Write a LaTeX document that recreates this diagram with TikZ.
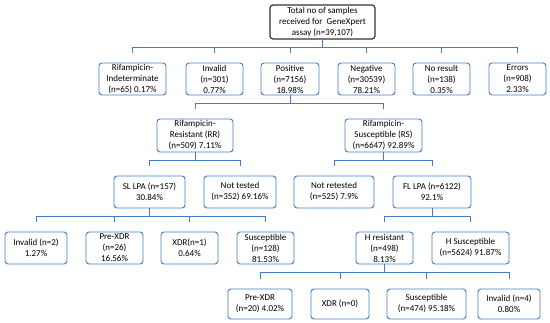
\documentclass[tikz,border=0pt]{standalone}
\usepackage{fontspec}
\setmainfont{Carlito}
\usetikzlibrary{calc}

\definecolor{boxblue}{RGB}{66,124,196}

\begin{document}
\begin{tikzpicture}[
  x=1pt, y=-1pt,
  box/.style={draw=boxblue, line width=0.9pt, rounded corners=3pt, align=center,
    minimum width=57pt, minimum height=32pt, inner sep=1pt,
    font=\fontsize{9}{11}\selectfont},
  root/.style={box, draw=black!80, line width=1.2pt, minimum width=105pt, minimum height=34pt},
  conn/.style={draw=boxblue, line width=0.9pt}
]
\useasboundingbox (0,0) rectangle (550,323);

% --- top: all samples ---
\node[root] (total) at (322.5,22) {Total no of samples\\received for\ \ GeneXpert\\assay (n=39,107)};

% --- GeneXpert outcomes ---
\node[box, minimum width=67pt] (rind) at (132.5,79) {Rifampicin-\\Indeterminate\\(n=65) 0.17\%};
\node[box] (rinv)  at (214.5,79) {Invalid\\(n=301)\\0.77\%};
\node[box, minimum width=58pt] (pos) at (290,79) {Positive\\(n=7156)\\18.98\%};
\node[box] (neg)   at (366.5,79) {Negative\\(n=30539)\\78.21\%};
\node[box] (nores) at (441.5,79) {No result\\(n=138)\\0.35\%};
\node[box] (err)   at (517.5,79) {Errors\\(n=908)\\2.33\%};

% --- rifampicin status of positives ---
\node[box, minimum width=76pt, minimum height=33pt] (rr) at (195,135.5) {Rifampicin-\\Resistant (RR)\\(n=509) 7.11\%};
\node[box, minimum width=77pt, minimum height=33pt] (rs) at (383.5,135.5) {Rifampicin-\\Susceptible (RS)\\(n=6647) 92.89\%};

% --- LPA testing ---
\node[box, minimum width=71pt] (sl)  at (149.5,192) {SL LPA (n=157)\\30.84\%};
\node[box, minimum width=72pt] (nt)  at (240,192)   {Not tested\\(n=352) 69.16\%};
\node[box, minimum width=80pt] (nrt) at (334,192)   {Not retested\\(n=525) 7.9\%};
\node[box, minimum width=78pt] (fl)  at (432,192)   {FL LPA (n=6122)\\92.1\%};

% --- SL LPA results ---
\node[box, minimum width=62pt] (inv2) at (36,248)    {Invalid (n=2)\\1.27\%};
\node[box] (pxdr) at (114.5,248) {Pre-XDR\\(n=26)\\16.56\%};
\node[box] (xdr1) at (189.5,248) {XDR(n=1)\\0.64\%};
\node[box] (susc) at (265.5,248) {Susceptible\\(n=128)\\81.53\%};

% --- FL LPA results ---
\node[box] (hres) at (384.5,248) {H resistant\\(n=498)\\8.13\%};
\node[box, minimum width=77pt] (hsus) at (470.5,248) {H Susceptible\\(n=5624) 91.87\%};

% --- H resistant follow-up ---
\node[box, minimum width=64pt, minimum height=30pt] (pxdr2) at (260,304)   {Pre-XDR\\(n=20) 4.02\%};
\node[box, minimum width=58pt, minimum height=30pt] (xdr0)  at (340,304)   {XDR (n=0)};
\node[box, minimum width=79pt, minimum height=30pt] (susc2) at (426.5,304) {Susceptible\\(n=474) 95.18\%};
\node[box, minimum width=62pt, minimum height=30pt] (inv4)  at (509,304)   {Invalid (n=4)\\0.80\%};

% connectors: parent -> bus -> short drop, stopping above the child
\foreach \parent/\kids in {total/{rind,rinv,pos,neg,nores,err}, pos/{rr,rs},
    rr/{sl,nt}, rs/{nrt,fl}, sl/{inv2,pxdr,xdr1,susc}, fl/{hres,hsus},
    hres/{pxdr2,xdr0,susc2,inv4}}
  \foreach \kid in \kids
    \draw[conn] (\parent.south) -- ++(0,8) -| ($(\kid.north)+(0,-10)$);

\end{tikzpicture}
\end{document}
